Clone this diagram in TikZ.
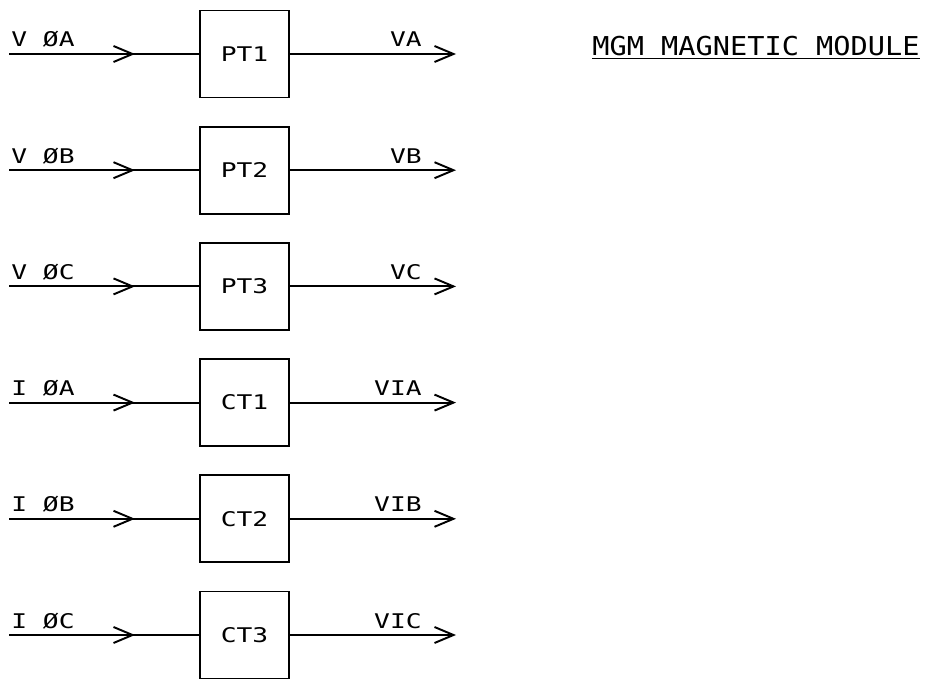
\documentclass[tikz,border=0pt]{standalone}
\usepackage{fontspec}
\newfontfamily\plotfont[FakeStretch=1.3]{DejaVu Sans Mono}
\newfontfamily\titlefont[FakeStretch=1.1]{DejaVu Sans Mono}
\usetikzlibrary{arrows.meta}

\begin{document}
\begin{tikzpicture}[x=0.02cm, y=-0.02cm,
  every node/.style={font=\plotfont\fontsize{11.5}{12}\selectfont},
  xfmr/.style={draw,line width=1.1pt,minimum width=1.78cm,minimum height=1.74cm,inner sep=0pt},
  sig/.style={line width=1.1pt},
  ar/.style={sig,-{Straight Barb[length=0.38cm,width=0.32cm,line width=1.1pt]}},
  lbl/.style={inner sep=0pt}]
\useasboundingbox (0,0) rectangle (939,679);

\foreach \k/\inl/\tname/\outl in {0/V ØA/PT1/VA, 1/V ØB/PT2/VB, 2/V ØC/PT3/VC,
    3/I ØA/CT1/VIA, 4/I ØB/CT2/VIB, 5/I ØC/CT3/VIC}
{
  \pgfmathsetmacro\yy{54+116.2*\k}
  \node[xfmr] (b\k) at (244.5,\yy) {\tname};
  \coordinate (s\k) at (9,\yy);
  \coordinate (m\k) at (135,\yy);
  \coordinate (e\k) at (456,\yy);
  \node[lbl,anchor=base west] (i\k) at (11,{\yy-7}) {\inl};
  \node[lbl,anchor=base east] (o\k) at (422,{\yy-7}) {\outl};
  \draw[sig] (s\k) -- (b\k.west);
  \draw[ar] (s\k) -- (m\k);
  \draw[ar] (b\k.east) -- (e\k);
}

\node[lbl,anchor=base west,font=\titlefont\fontsize{14.8}{16}\selectfont] (title)
  at (592,56) {\underline{MGM MAGNETIC MODULE}};
\end{tikzpicture}
\end{document}
